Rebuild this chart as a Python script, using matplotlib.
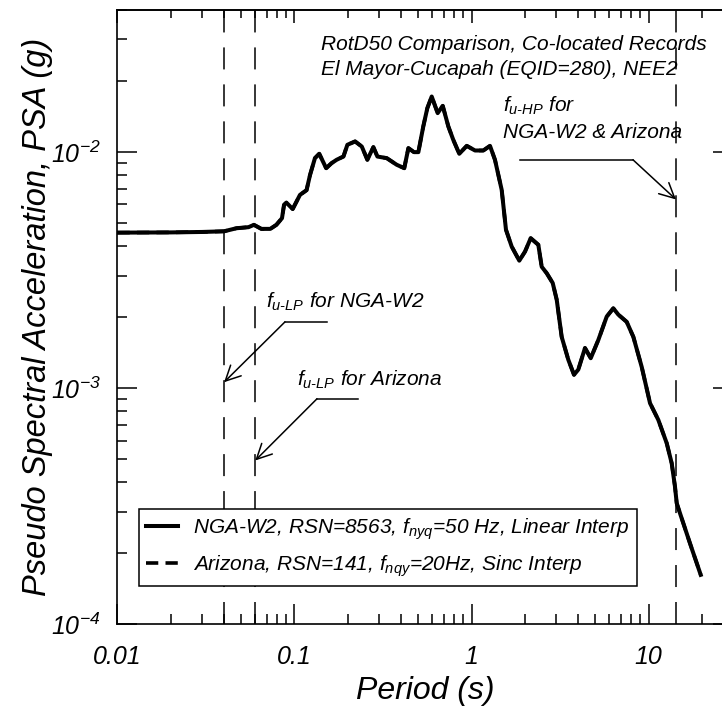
import matplotlib
matplotlib.use("Agg")
import matplotlib.pyplot as plt
from matplotlib.ticker import LogLocator, FixedLocator, NullFormatter, FuncFormatter
import numpy as np

# ── Fuentes ───────────────────────────────────────────────
plt.rcParams['font.family'] = ['Liberation Sans', 'DejaVu Sans']
plt.rcParams['font.style'] = 'italic'
plt.rcParams['mathtext.fontset'] = 'custom'
plt.rcParams['mathtext.rm'] = 'Liberation Sans:italic'
plt.rcParams['mathtext.it'] = 'Liberation Sans:italic'
plt.rcParams['mathtext.bf'] = 'Liberation Sans:italic:bold'

# ── Datos ─────────────────────────────────────────────────
period = [0.01, 0.02, 0.03, 0.04, 0.047, 0.055, 0.059, 0.065, 0.073, 0.079,
          0.085, 0.0873, 0.090, 0.0977, 0.1074, 0.117, 0.1224, 0.1305, 0.138,
          0.151, 0.162, 0.173, 0.189, 0.199, 0.220, 0.240, 0.258, 0.279, 0.294,
          0.332, 0.378, 0.417, 0.440, 0.473, 0.501, 0.534, 0.563, 0.596, 0.644,
          0.688, 0.740, 0.789, 0.853, 0.940, 1.047, 1.166, 1.272, 1.357, 1.481,
          1.566, 1.687, 1.862, 2.006, 2.160, 2.385, 2.492, 2.660, 2.876, 3.03,
          3.232, 3.523, 3.794, 4.013, 4.377, 4.716, 5.204, 5.805, 6.325, 6.75,
          7.53, 8.21, 9.155, 10.2, 11.36, 12.67, 13.52, 14.11, 14.43, 15.07,
          17.16, 19.72]

psa_nga = [0.00456, 0.00457, 0.00459, 0.00462, 0.00476, 0.00481, 0.00492,
           0.00473, 0.00473, 0.00492, 0.00525, 0.00598, 0.00611, 0.00574,
           0.00659, 0.0069, 0.0080, 0.00943, 0.00984, 0.00855, 0.00898,
           0.00928, 0.00958, 0.01074, 0.0111, 0.01056, 0.00928, 0.0105,
           0.00958, 0.00943, 0.00884, 0.00855, 0.0104, 0.0100, 0.0100,
           0.01284, 0.01536, 0.0172, 0.01463, 0.0157, 0.01284, 0.01127,
           0.00984, 0.01063, 0.01016, 0.01016, 0.01063, 0.00928, 0.00692,
           0.00469, 0.00398, 0.00347, 0.00379, 0.00432, 0.00405, 0.00327,
           0.00307, 0.00279, 0.00237, 0.00165, 0.00132, 0.00114, 0.0012,
           0.00148, 0.00134, 0.0016, 0.00201, 0.00218, 0.00205, 0.00191,
           0.00165, 0.00123, 0.000864, 0.000734, 0.000585, 0.000481,
           0.000383, 0.000326, 0.000295, 0.00022, 0.000162]

# Arizona coincide con NGA-W2 a esta escala
psa_arizona = list(psa_nga)

# periodos de corte usable (1/f_u)
t_lp_nga = 0.04
t_lp_az = 0.06
t_hp = 14.3

x_ticks = [0.01, 0.1, 1, 10]
x_ticklabels = ['0.01', '0.1', '1', '10']
y_ticks = [1e-4, 1e-3, 1e-2]

label_nga = r'NGA-W2, RSN=8563, $f_{nyq}$=50 Hz, Linear Interp'
label_az = r'Arizona, RSN=141, $f_{nqy}$=20Hz, Sinc Interp'

# ── Figura ────────────────────────────────────────────────
fig = plt.figure(figsize=(7.22, 7.13), dpi=100)
ax = fig.add_axes([0.1627, 0.1244, 0.8525, 0.8616])

ax.plot(period, psa_arizona, color='black', lw=2.6, linestyle=(0, (3.4, 2.0)),
        label=label_az, zorder=2)
ax.plot(period, psa_nga, color='black', lw=2.9, solid_joinstyle='round',
        label=label_nga, zorder=3)

for t in [t_lp_nga, t_lp_az, t_hp]:
    ax.axvline(t, color='black', lw=1.1, linestyle=(0, (14.4, 9.8)), zorder=1)

ax.set_xscale('log')
ax.set_yscale('log')
ax.set_xlim(0.01, 30)
ax.set_ylim(1e-4, 0.04)

# ── Ejes y ticks ──────────────────────────────────────────
ax.xaxis.set_major_locator(FixedLocator(x_ticks))
ax.set_xticklabels(x_ticklabels)
ax.xaxis.set_minor_locator(LogLocator(base=10, subs=np.arange(2, 10)))
ax.xaxis.set_minor_formatter(NullFormatter())
ax.yaxis.set_major_locator(FixedLocator(y_ticks))
ax.yaxis.set_major_formatter(FuncFormatter(
    lambda v, pos: r'$10^{%d}$' % int(round(np.log10(v)))))
ax.yaxis.set_minor_locator(LogLocator(base=10, subs=np.arange(2, 10)))
ax.yaxis.set_minor_formatter(NullFormatter())

ax.tick_params(which='both', direction='in', width=1.1, right=True, top=False)
ax.tick_params(which='major', length=14.5)
ax.tick_params(which='minor', length=7.5)
ax.tick_params(axis='x', which='major', labelsize=18, pad=15)
ax.tick_params(axis='y', which='major', labelsize=18, pad=12)

top = ax.secondary_xaxis('top')
top.xaxis.set_major_locator(FixedLocator(x_ticks))
top.xaxis.set_minor_locator(LogLocator(base=10, subs=np.arange(2, 10)))
top.tick_params(which='both', direction='in', width=1.1, labeltop=False)
top.tick_params(which='major', length=9)
top.tick_params(which='minor', length=5.5)
top.xaxis.set_minor_formatter(NullFormatter())
top.spines['top'].set_linewidth(1.2)

for s in ax.spines.values():
    s.set_linewidth(1.2)

ax.set_xlabel('Period (s)', fontsize=23)
ax.set_ylabel('Pseudo Spectral Acceleration, PSA (g)', fontsize=23.5)
ax.xaxis.set_label_coords(0.5, -0.084)
ax.yaxis.set_label_coords(-0.105, 0.5)

# ── Textos ────────────────────────────────────────────────
ax.text(0.3306, 0.9349, 'RotD50 Comparison, Co-located Records',
        transform=ax.transAxes, fontsize=15, va='baseline', ha='left')
ax.text(0.3306, 0.894, 'El Mayor-Cucapah (EQID=280), NEE2',
        transform=ax.transAxes, fontsize=15, va='baseline', ha='left')

flecha = dict(arrowstyle='->,head_length=0.6,head_width=0.3', color='black',
              lw=1.1, shrinkA=0, shrinkB=0, mutation_scale=18)

# f_u-HP
ax.text(1.507, 0.0148, r'$f_{u\text{-}HP}$ for', fontsize=15, va='baseline')
ax.text(1.516, 0.0115, 'NGA-W2 & Arizona', fontsize=15, va='baseline')
ax.plot([1.88, 8.17], [0.00928, 0.00928], color='black', lw=1.1)
ax.annotate('', xy=(t_hp, 0.0063), xytext=(8.17, 0.00928), arrowprops=flecha)

# f_u-LP NGA-W2
ax.text(0.069, 0.00219, r'$f_{u\text{-}LP}$ for NGA-W2', fontsize=15, va='baseline')
ax.plot([0.0884, 0.1527], [0.00191, 0.00191], color='black', lw=1.1)
ax.annotate('', xy=(t_lp_nga, 0.00106), xytext=(0.0884, 0.00191), arrowprops=flecha)

# f_u-LP Arizona
ax.text(0.1032, 0.001026, r'$f_{u\text{-}LP}$ for Arizona', fontsize=15, va='baseline')
ax.plot([0.134, 0.2285], [0.000902, 0.000902], color='black', lw=1.1)
ax.annotate('', xy=(t_lp_az, 0.000494), xytext=(0.134, 0.000902), arrowprops=flecha)

# ── Leyenda ───────────────────────────────────────────────
h, l = ax.get_legend_handles_labels()
leg = ax.legend(h[::-1], l[::-1], loc='lower left', bbox_to_anchor=(0.035, 0.0623),
                borderaxespad=0, fontsize=15, handlelength=1.5, handletextpad=0.75,
                borderpad=0.35, labelspacing=0.55, fancybox=False, framealpha=1,
                edgecolor='black')
leg.get_frame().set_linewidth(1.1)

fig.savefig('out.png', dpi=100)
